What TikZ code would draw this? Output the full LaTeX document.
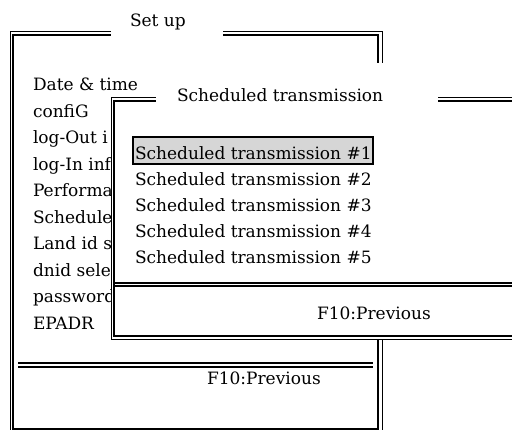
\documentclass[tikz,border=0pt]{standalone}
\usepackage{fontspec}
\setmainfont{DejaVu Serif}
\begin{document}
\begin{tikzpicture}[x=1pt,y=-1pt,
  every node/.style={inner sep=0pt, outer sep=0pt, anchor=base west,
    font=\fontsize{17}{20}\selectfont},
  outerrule/.style={line width=1pt},
  innerrule/.style={line width=1.7pt},
  seprule/.style={line width=1.2pt},
  hilite/.style={fill=black!16, draw=black, line width=2pt}]
\useasboundingbox (0,0) rectangle (512,430);
\clip (0,0) rectangle (512,430);

% ---- "Set up" window (double frame) ----
\fill[white] (10,32) rectangle (382,470);
\draw[outerrule] (10,32) rectangle (382,470);
\draw[innerrule] (13,35) rectangle (378,429);
\draw[seprule] (18,363) -- (373,363);
\draw[seprule] (18,367) -- (373,367);
% title gap in the top border
\fill[white] (111,0) rectangle (223,60);
\node (setup) at (130,27) {Set up};

% menu entries (partly covered by the second window)
\foreach \t [count=\i from 0] in {Date \& time, confiG, log-Out i, log-In inf,
  Performa, Schedule, Land id s, dnid sele, password, EPADR}
  \node (m\i) at (33,{91+26.5*\i}) {\t};

\node (prev1) at (207,385) {F10:Previous};

% ---- "Scheduled transmission" window ----
\fill[white] (111,98) rectangle (540,340);
\draw[outerrule] (111,98) rectangle (540,340);
\draw[innerrule] (114,101) rectangle (536,336);
\draw[seprule] (114,283) -- (540,283);
\draw[seprule] (114,286) -- (540,286);
% title gap in the top border
\fill[white] (156,63) rectangle (438,120);
\node (sched) at (177,102) {Scheduled transmission};

% selected entry
\draw[hilite] (133,137) rectangle (373,164);
\foreach \i in {1,...,5}
  \node (s\i) at (135,{160+26*(\i-1)}) {Scheduled transmission \#\i};

\node (prev2) at (317,320) {F10:Previous};
\end{tikzpicture}
\end{document}
